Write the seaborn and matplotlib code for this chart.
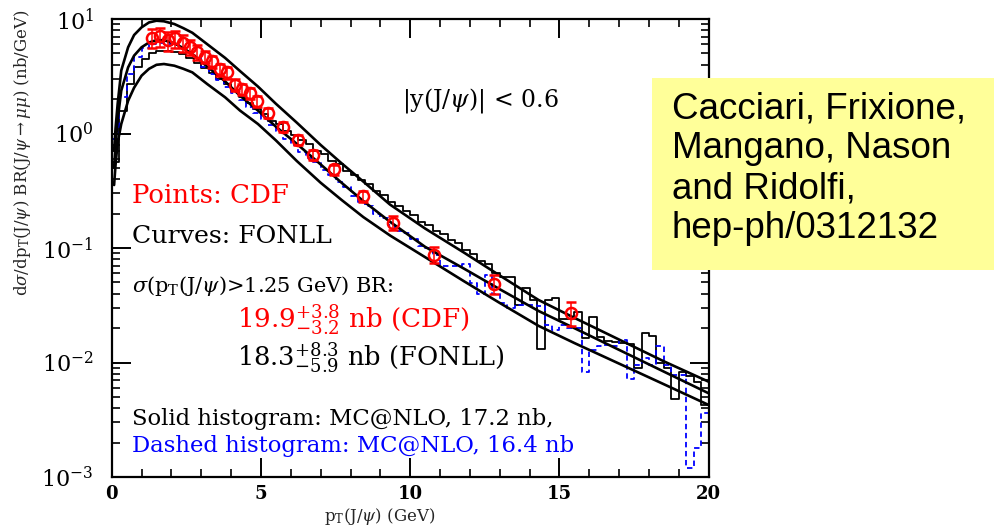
import numpy as np
import pandas as pd
import matplotlib
matplotlib.use("Agg")
import matplotlib.pyplot as plt
import seaborn as sns
from matplotlib.patches import Rectangle
from matplotlib.ticker import MultipleLocator, LogLocator, NullFormatter

# ---------------- data (log10 of nb/GeV) ----------------
fonll_pt = [0.08, 0.13, 0.2, 0.32, 0.55, 0.75, 1.0, 1.25, 1.5, 1.75, 2.1, 2.4, 2.7,
            3.2, 3.8, 4.3, 4.9, 5.5, 6.2, 7.0, 7.7, 8.43, 9.32, 10.5, 11.8, 13.0,
            14.3, 15.5, 17.0, 18.5, 20.0]
fonll_upper_log10 = [-0.15, 0.05, 0.26, 0.55, 0.753, 0.86, 0.927, 0.97, 0.985, 0.98,
                     0.956, 0.92, 0.88, 0.78, 0.66, 0.545, 0.41, 0.26, 0.095, -0.10,
                     -0.26, -0.42, -0.62, -0.83, -1.04, -1.24, -1.454, -1.61, -1.80,
                     -1.99, -2.168]
fonll_central_log10 = [-0.30, -0.10, 0.12, 0.374, 0.578, 0.68, 0.753, 0.795, 0.815,
                       0.815, 0.788, 0.745, 0.694, 0.585, 0.455, 0.33, 0.20, 0.06,
                       -0.09, -0.27, -0.43, -0.59, -0.77, -0.99, -1.18, -1.36, -1.55,
                       -1.70, -1.89, -2.08, -2.269]
fonll_lower_log10 = [-0.45, -0.27, -0.08, 0.083, 0.286, 0.40, 0.505, 0.565, 0.60, 0.607,
                     0.592, 0.565, 0.534, 0.432, 0.316, 0.20, 0.083, -0.06, -0.24,
                     -0.43, -0.58, -0.73, -0.89, -1.08, -1.29, -1.48, -1.68, -1.83,
                     -2.01, -2.19, -2.371]

hist_range = (0.0, 20.0)
hist_binwidth = 0.25
mcnlo_solid_log10 = [
    -0.25, 0.20, 0.43, 0.58, 0.65, 0.70, 0.72, 0.72, 0.71, 0.69, 0.66, 0.62,
    0.575, 0.53, 0.48, 0.43, 0.37, 0.32, 0.265, 0.215,
    0.17, 0.11, 0.08, 0.02, -0.01, -0.06, -0.09, -0.15, -0.18, -0.24, -0.27, -0.33,
    -0.36, -0.41, -0.44, -0.50,
    -0.54, -0.60, -0.63, -0.68, -0.71, -0.77, -0.80, -0.85, -0.88, -0.93, -0.96, -1.02,
    -1.05, -1.11, -1.14, -1.22,
    -1.25, -1.25, -1.50, -1.35, -1.45, -1.88, -1.45, -1.44, -1.62, -1.62, -1.56, -1.79,
    -1.60, -1.78, -1.81, -1.82, -1.83, -1.84, -2.05, -1.745, -1.77, -2.00, -2.05, -2.32,
    -2.08, -2.12, -2.17, -2.37]
mcnlo_dashed_log10 = [
    -0.05, 0.32, 0.52, 0.665, 0.75, 0.78, 0.79, 0.785, 0.77, 0.74, 0.71, 0.67,
    0.58, 0.52, 0.47, 0.41, 0.35, 0.29, 0.23, 0.18,
    0.13, 0.07, 0.02, -0.05, -0.10, -0.16, -0.21, -0.25, -0.32, -0.36, -0.42, -0.47,
    -0.55, -0.60, -0.63, -0.70,
    -0.74, -0.80, -0.85, -0.87, -0.92, -0.98, -1.00, -1.06, -1.16, -1.16, -1.16, -1.14,
    -1.31, -1.40, -1.24, -1.40,
    -1.48, -1.52, -1.50, -1.50, -1.50, -1.51, -1.67, -1.72, -1.67, -1.70, -1.70, -2.08,
    -1.89, -1.86, -1.85, -1.86, -1.80, -2.14, -2.02, -1.96, -2.02, -1.86, -2.02, -2.11,
    -2.11, -2.92, -2.75, -2.44]

cdf_pt = [1.35, 1.62, 1.88, 2.13, 2.38, 2.62, 2.87, 3.12, 3.37, 3.62, 3.87, 4.12, 4.38,
          4.62, 4.88, 5.25, 5.73, 6.23, 6.73, 7.45, 8.43, 9.42, 10.8, 12.8, 15.4]
cdf_val = [6.84, 7.05, 6.49, 6.76, 6.17, 5.75, 5.19, 4.68, 4.27, 3.63, 3.43, 2.66, 2.44,
           2.24, 1.93, 1.51, 1.15, 0.877, 0.653, 0.486, 0.286, 0.166, 0.0877, 0.0485,
           0.0272]
cdf_err_frac = [0.19, 0.19, 0.19, 0.17, 0.17, 0.15, 0.15, 0.12, 0.12, 0.12, 0.12, 0.12,
                0.11, 0.11, 0.11, 0.10, 0.10, 0.10, 0.10, 0.10, 0.11, 0.14, 0.16, 0.19,
                0.24]

x_ticks = [0, 5, 10, 15, 20]
y_limits = (1e-3, 1e1)

# ---------------- style ----------------
sns.set_style("ticks")
plt.rcParams["font.family"] = ["DejaVu Serif"]
plt.rcParams["mathtext.fontset"] = "dejavuserif"

W, H = 994, 528
fig = plt.figure(figsize=(W / 100, H / 100), dpi=100)
ax_l, ax_r, ax_t, ax_b = 111.7, 708.7, 19.0, 477.0
ax = fig.add_axes([ax_l / W, 1 - ax_b / H, (ax_r - ax_l) / W, (ax_b - ax_t) / H])
ax.set_yscale("log")

# FONLL curves
curves = pd.concat([
    pd.DataFrame({"pt": fonll_pt, "val": 10 ** np.array(fonll_upper_log10), "band": "upper"}),
    pd.DataFrame({"pt": fonll_pt, "val": 10 ** np.array(fonll_central_log10), "band": "central"}),
    pd.DataFrame({"pt": fonll_pt, "val": 10 ** np.array(fonll_lower_log10), "band": "lower"}),
])
sns.lineplot(data=curves, x="pt", y="val", units="band", estimator=None, sort=False,
             color="black", linewidth=1.9, ax=ax, zorder=3)

# MC@NLO histograms
n_bins = len(mcnlo_solid_log10)
centers = hist_range[0] + hist_binwidth * (np.arange(n_bins) + 0.5)
hist_df = pd.DataFrame({
    "pt": centers,
    "solid": 10 ** np.array(mcnlo_solid_log10),
    "dashed": 10 ** np.array(mcnlo_dashed_log10),
})
sns.histplot(data=hist_df, x="pt", weights="solid", binwidth=hist_binwidth,
             binrange=hist_range, element="step", fill=False, color="black",
             linewidth=1.3, ax=ax, zorder=2)
sns.histplot(data=hist_df, x="pt", weights="dashed", binwidth=hist_binwidth,
             binrange=hist_range, element="step", fill=False, color="#0000ff",
             linewidth=1.3, linestyle=(0, (3, 2)), ax=ax, zorder=2)
ax.plot([hist_range[0], hist_range[0]], [y_limits[0], hist_df["dashed"].iloc[0]],
        color="#0000ff", lw=1.3, ls=(0, (3, 2)), zorder=2)

# CDF points
cdf_val_a = np.array(cdf_val)
ax.errorbar(cdf_pt, cdf_val_a, yerr=cdf_val_a * np.array(cdf_err_frac), fmt="o",
            ms=8, mfc="none", mec="red", mew=1.8, ecolor="red", elinewidth=1.1,
            capsize=3.5, capthick=1.1, zorder=4)

ax.set_xlim(x_ticks[0], x_ticks[-1])
ax.set_ylim(*y_limits)

ax.xaxis.set_major_locator(MultipleLocator(5))
ax.xaxis.set_minor_locator(MultipleLocator(1))
ax.yaxis.set_major_locator(LogLocator(base=10, numticks=10))
ax.yaxis.set_minor_locator(LogLocator(base=10, subs=np.arange(2, 10), numticks=50))
ax.yaxis.set_minor_formatter(NullFormatter())
ax.tick_params(which="both", direction="in", top=True, right=True, colors="black")
ax.tick_params(which="major", length=14, width=1.4)
ax.tick_params(which="minor", length=5.5, width=1.2)
ax.tick_params(axis="x", which="major", labelsize=13, pad=6)
ax.tick_params(axis="y", which="major", labelsize=16, pad=13)
for lab in ax.get_xticklabels():
    lab.set_fontweight("bold")
for s in ax.spines.values():
    s.set_linewidth(1.6)
    s.set_color("black")

ax.set_xlabel(r"p$_{\rm T}$(J/$\psi$) (GeV)", fontsize=12)
ax.xaxis.set_label_coords((380 - ax_l) / (ax_r - ax_l), (ax_b - 506) / (ax_b - ax_t))
ax.set_ylabel(r"d$\sigma$/dp$_{\rm T}$(J/$\psi$) BR(J/$\psi$$\rightarrow$$\mu\mu$) (nb/GeV)",
              fontsize=12)
ax.yaxis.set_label_coords((33 - ax_l) / (ax_r - ax_l), (ax_b - 153) / (ax_b - ax_t))


def fx(px):
    return (px - ax_l) / (ax_r - ax_l)


def fy(py):
    return (ax_b - py) / (ax_b - ax_t)


tk = dict(transform=ax.transAxes, va="baseline", ha="left")
ax.text(fx(402), fy(106.7), r"|y(J/$\psi$)| < 0.6", fontsize=17, color="black", **tk)
ax.text(fx(132), fy(203.3), "Points: CDF", fontsize=18.7, color="red", **tk)
ax.text(fx(132), fy(243.3), "Curves: FONLL", fontsize=18.2, color="black", **tk)
ax.text(fx(132), fy(291.7), r"$\sigma$(p$_{\rm T}$(J/$\psi$)>1.25 GeV) BR:", fontsize=15,
        color="black", **tk)
ax.text(fx(237), fy(328.3), r"19.9$^{+3.8}_{-3.2}$ nb (CDF)", fontsize=18.8, color="red", **tk)
ax.text(fx(237), fy(366.7), r"18.3$^{+8.3}_{-5.9}$ nb (FONLL)", fontsize=18.5, color="black", **tk)
ax.text(fx(132), fy(425), "Solid histogram: MC@NLO, 17.2 nb,", fontsize=16.4, color="black", **tk)
ax.text(fx(132), fy(451.7), "Dashed histogram: MC@NLO, 16.4 nb", fontsize=16.4, color="#0000ff", **tk)

# yellow citation box
fig.add_artist(Rectangle((651.7 / W, 1 - 270 / H), (W - 651.7) / W, (270 - 78.3) / H,
                         transform=fig.transFigure, facecolor="#ffff99", edgecolor="none",
                         zorder=5))
cite_lines = ["Cacciari, Frixione,", "Mangano, Nason", "and Ridolfi,", "hep-ph/0312132"]
for i, line in enumerate(cite_lines):
    fig.text(671.7 / W, 1 - (118.3 + 40 * i) / H, line, fontsize=26.5,
             family="Liberation Sans", color="black", va="baseline", ha="left", zorder=6)

fig.savefig("out.png", dpi=100)
